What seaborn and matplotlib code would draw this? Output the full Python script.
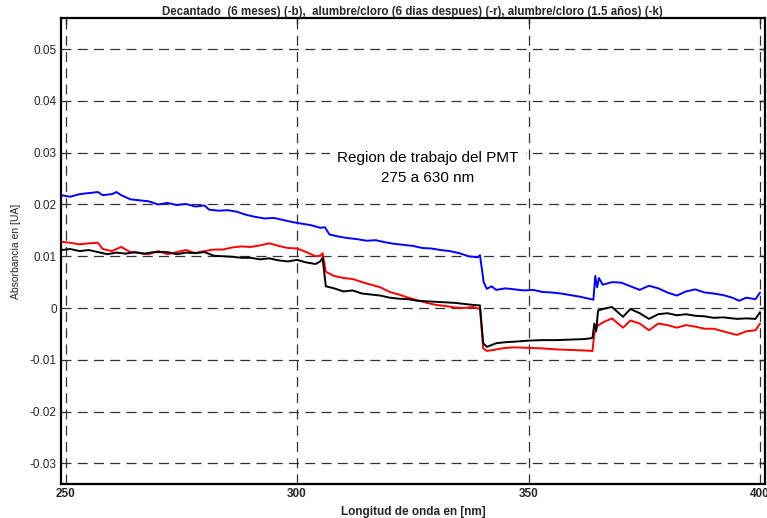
import matplotlib
matplotlib.use("Agg")
import matplotlib.pyplot as plt
import seaborn as sns
import pandas as pd

# ---- data ----
blue_wl = [249, 251, 253, 255, 257, 258, 260, 261, 262, 264, 266, 268, 270, 272, 274, 276, 278, 280,
           281, 283, 285, 287, 289, 291, 293, 295, 297, 299, 301, 303, 305, 306, 307, 309, 311, 313,
           315, 317, 319, 321, 323, 325, 327, 329, 331, 333, 335, 337, 339, 339.5, 340.3, 341, 342,
           343, 345, 347, 349, 351, 353, 355, 357, 359, 361, 363, 364, 364.4, 364.8, 365.2, 366, 368,
           370, 372, 374, 376, 378, 380, 382, 384, 386, 388, 390, 392, 394, 395.5, 397, 399, 400]
blue_val = [0.0218, 0.0215, 0.0220, 0.0222, 0.0224, 0.0218, 0.0220, 0.0224, 0.0218, 0.0210, 0.0208,
            0.0206, 0.0200, 0.0203, 0.0199, 0.0201, 0.0196, 0.0198, 0.0190, 0.0188, 0.0189, 0.0186,
            0.0180, 0.0176, 0.0173, 0.0174, 0.0170, 0.0166, 0.0163, 0.0160, 0.0155, 0.0156, 0.0142,
            0.0138, 0.0135, 0.0133, 0.0130, 0.0131, 0.0127, 0.0124, 0.0122, 0.0120, 0.0116, 0.0115,
            0.0112, 0.0110, 0.0106, 0.0100, 0.0098, 0.0102, 0.0050, 0.0037, 0.0042, 0.0035, 0.0038,
            0.0036, 0.0034, 0.0035, 0.0031, 0.0030, 0.0028, 0.0025, 0.0022, 0.0018, 0.0016, 0.0062,
            0.0040, 0.0058, 0.0045, 0.0050, 0.0049, 0.0042, 0.0035, 0.0043, 0.0038, 0.0030, 0.0024,
            0.0032, 0.0036, 0.0030, 0.0028, 0.0025, 0.0020, 0.0014, 0.0020, 0.0017, 0.0030]

red_wl = [249, 251, 253, 255, 257, 258, 260, 262, 264, 266, 268, 270, 272, 274, 276, 278, 280, 282,
          284, 286, 288, 290, 292, 294, 296, 298, 300, 302, 304, 305, 305.5, 306.2, 308, 310, 312,
          314, 316, 318, 320, 322, 324, 326, 328, 330, 332, 334, 336, 338, 339.5, 340.2, 341, 343,
          345, 347, 350, 353, 356, 359, 362, 363.8, 364.2, 364.8, 366, 368, 370.4, 372, 374, 376,
          378, 380, 382, 384, 386, 388, 390, 392, 395, 397, 399, 400]
red_val = [0.0128, 0.0126, 0.0123, 0.0125, 0.0126, 0.0114, 0.0110, 0.0118, 0.0108, 0.0106, 0.0104,
           0.0110, 0.0104, 0.0108, 0.0112, 0.0106, 0.0110, 0.0113, 0.0113, 0.0117, 0.0119, 0.0118,
           0.0121, 0.0125, 0.0120, 0.0116, 0.0115, 0.0108, 0.0100, 0.0101, 0.0106, 0.0070, 0.0062,
           0.0058, 0.0056, 0.0050, 0.0045, 0.0040, 0.0031, 0.0026, 0.0020, 0.0015, 0.0010, 0.0006,
           0.0004, 0.0001, 0.0000, 0.0002, -0.0002, -0.0078, -0.0083, -0.0080, -0.0077, -0.0076,
           -0.0077, -0.0078, -0.0080, -0.0081, -0.0082, -0.0083, -0.0050, -0.0035, -0.0028, -0.0020,
           -0.0038, -0.0024, -0.0030, -0.0043, -0.0030, -0.0033, -0.0038, -0.0033, -0.0036, -0.0040,
           -0.0040, -0.0045, -0.0052, -0.0045, -0.0043, -0.0030]

black_wl = [249, 251, 253, 255, 257, 259, 261, 263, 265, 267, 269, 272, 274, 276, 278, 280, 282, 284,
            286, 288, 290, 292, 294, 296, 298, 300, 302, 304, 305, 305.5, 306.2, 308, 310, 312, 314,
            316, 318, 320, 322, 324, 326, 328, 330, 332, 334, 336, 338, 339.5, 340.2, 341, 343, 345,
            347, 350, 353, 356, 359, 362, 363.8, 364.2, 364.6, 365, 366, 368, 370.4, 372, 374, 376,
            378, 380, 382, 384, 386, 388, 390, 392, 395, 397, 399, 400]
black_val = [0.0112, 0.0114, 0.0110, 0.0112, 0.0108, 0.0104, 0.0107, 0.0105, 0.0108, 0.0105, 0.0108,
             0.0108, 0.0104, 0.0107, 0.0106, 0.0108, 0.0101, 0.0100, 0.0099, 0.0097, 0.0097, 0.0094,
             0.0096, 0.0092, 0.0090, 0.0093, 0.0088, 0.0085, 0.0090, 0.0097, 0.0042, 0.0038, 0.0032,
             0.0034, 0.0028, 0.0026, 0.0024, 0.0020, 0.0018, 0.0017, 0.0014, 0.0013, 0.0012, 0.0011,
             0.0010, 0.0008, 0.0006, 0.0005, -0.0068, -0.0075, -0.0068, -0.0066, -0.0065, -0.0063,
             -0.0062, -0.0062, -0.0061, -0.0060, -0.0058, -0.0030, -0.0045, -0.0005, -0.0002, 0.0002,
             -0.0017, -0.0002, -0.0010, -0.0021, -0.0012, -0.0010, -0.0014, -0.0012, -0.0015, -0.0016,
             -0.0019, -0.0018, -0.0021, -0.0020, -0.0021, -0.0008]

x_ticks = [250, 300, 350, 400]
y_ticks = [-0.03, -0.02, -0.01, 0, 0.01, 0.02, 0.03, 0.04, 0.05]
y_tick_labels = ["-0.03", "-0.02", "-0.01", "0", "0.01", "0.02", "0.03", "0.04", "0.05"]

title = "Decantado  (6 meses) (-b),  alumbre/cloro (6 dias despues) (-r), alumbre/cloro (1.5 años) (-k)"
xlabel = "Longitud de onda en [nm]"
ylabel = "Absorbancia en [UA]"
note = "Region de trabajo del PMT\n275 a 630 nm"

# ---- plot ----
sns.set_style("white")
plt.rcParams["font.family"] = ["Liberation Sans", "DejaVu Sans"]

fig = plt.figure(figsize=(7.67, 5.18), dpi=100)
ax = fig.add_axes([0.0795, 0.0656, 0.9175, 0.8994])

for wl, val, col in [(blue_wl, blue_val, "#0000ff"), (red_wl, red_val, "#ff0000"),
                     (black_wl, black_val, "#000000")]:
    df = pd.DataFrame({"wl": wl, "val": val})
    sns.lineplot(data=df, x="wl", y="val", ax=ax, color=col, linewidth=1.4, sort=False)

ax.set_xlim(249, 401)
ax.set_ylim(-0.034, 0.056)
ax.set_xticks(x_ticks)
ax.set_xticklabels([str(t) for t in x_ticks], fontweight="bold", fontsize=8.5)
ax.set_yticks(y_ticks)
ax.set_yticklabels(y_tick_labels, fontsize=8.5)
ax.grid(True, color="#333333", linestyle=(0, (8, 5)), linewidth=0.9)
ax.tick_params(direction="in", top=True, right=True, length=4, width=1, pad=3)
for s in ax.spines.values():
    s.set_color("black")
    s.set_linewidth(1.6)

ax.set_xlabel(xlabel, fontweight="bold", fontsize=8.5, labelpad=4)
ax.set_ylabel(ylabel, fontsize=7.5, labelpad=6)
ax.set_title(title, fontweight="bold", fontsize=8.3, pad=2)
ax.text(328.3, 0.0270, note, ha="center", va="center", fontsize=11, linespacing=1.55,
        color="black", zorder=5,
        bbox=dict(facecolor="white", edgecolor="none", boxstyle="square,pad=0.5"))

fig.savefig("out.png", dpi=100)
